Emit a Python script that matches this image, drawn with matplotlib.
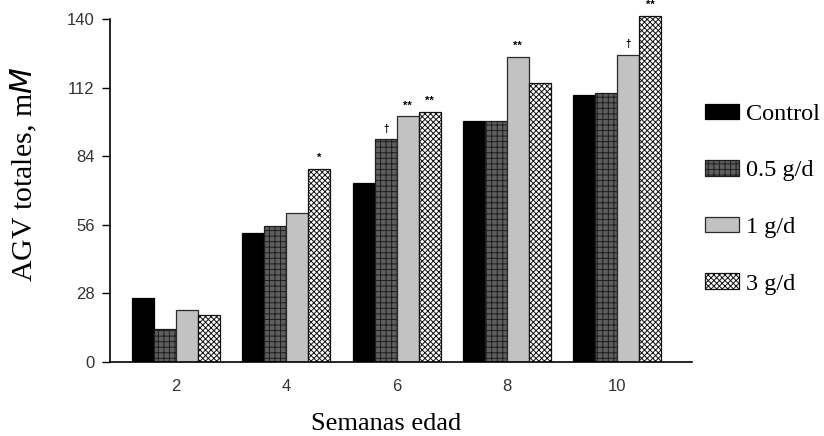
import matplotlib
matplotlib.use('Agg')
import matplotlib.pyplot as plt
import numpy as np

# data
weeks = [2, 4, 6, 8, 10]
series = ['Control', '0.5 g/d', '1 g/d', '3 g/d']
control = [26.3, 52.8, 73.2, 98.5, 109.0]
half_g = [13.6, 55.4, 91.0, 98.5, 110.0]
one_g = [21.4, 60.8, 100.4, 124.7, 125.5]
three_g = [19.3, 79.0, 102.3, 114.0, 141.5]
# significance marks (series index, week index, mark)
marks = [(3, 1, '*'), (1, 2, '\u2020'), (2, 2, '**'), (3, 2, '**'),
         (2, 3, '**'), (2, 4, '\u2020'), (3, 4, '**')]
yticks = [0, 28, 56, 84, 112, 140]

plt.rcParams['hatch.linewidth'] = 0.7
serif = 'Liberation Serif'
sans = 'Liberation Sans'

fig = plt.figure(figsize=(8.24, 4.36), dpi=100)
ax = fig.add_axes([0.1335, 0.1697, 0.8398 - 0.1335, 0.984 - 0.1697])

styles = [
    dict(color='black', edgecolor='black'),
    dict(color='#5e5e5e', edgecolor='#1e1e1e', hatch='+++'),
    dict(color='#c2c2c2', edgecolor='#2a2a2a'),
    dict(color='white', edgecolor='#111111', hatch='xxxxxx'),
]
vals = [control, half_g, one_g, three_g]
w = 0.4
x = np.array(weeks, dtype=float)
bars = []
for i, (v, st) in enumerate(zip(vals, styles)):
    b = ax.bar(x + (i - 1.5) * w, v, w, linewidth=0.9, label=series[i], **st)
    bars.append(b)

for si, wi, m in marks:
    r = bars[si][wi]
    ax.text(r.get_x() + r.get_width() / 2, r.get_height() + 2.2, m,
            ha='center', va='bottom', fontsize=8 if m != '\u2020' else 7,
            fontweight='bold', family=sans)

ax.set_xlim(0.8, 11.36)
ax.set_ylim(0, 145)
ax.set_yticks(yticks)
ax.set_xticks(weeks)
ax.tick_params(axis='x', length=0, pad=12, labelsize=12)
ax.tick_params(axis='y', direction='out', length=6, width=1, labelsize=12, pad=5)
for lab in ax.get_xticklabels() + ax.get_yticklabels():
    lab.set_family(sans)
    lab.set_color('#333333')
ax.spines['top'].set_visible(False)
ax.spines['right'].set_visible(False)
ax.spines['left'].set_bounds(0, 140)
ax.spines['left'].set_linewidth(1.2)
ax.spines['bottom'].set_linewidth(1.2)

ax.set_ylabel('AGV totales, m$\\it{M}$', family=serif, fontsize=21.5)
ax.yaxis.set_label_coords(-0.122, 0.53)
ax.set_xlabel('Semanas edad', family=serif, fontsize=19, va='top')
ax.xaxis.set_label_coords(0.474, -0.145)

leg = ax.legend(loc='upper left', bbox_to_anchor=(1.005, 0.755), frameon=False,
                prop={'family': serif, 'size': 17.5}, handlelength=1.4,
                handleheight=0.6, labelspacing=1.45, handletextpad=0.3,
                borderaxespad=0)

fig.savefig('out.png', dpi=100)
